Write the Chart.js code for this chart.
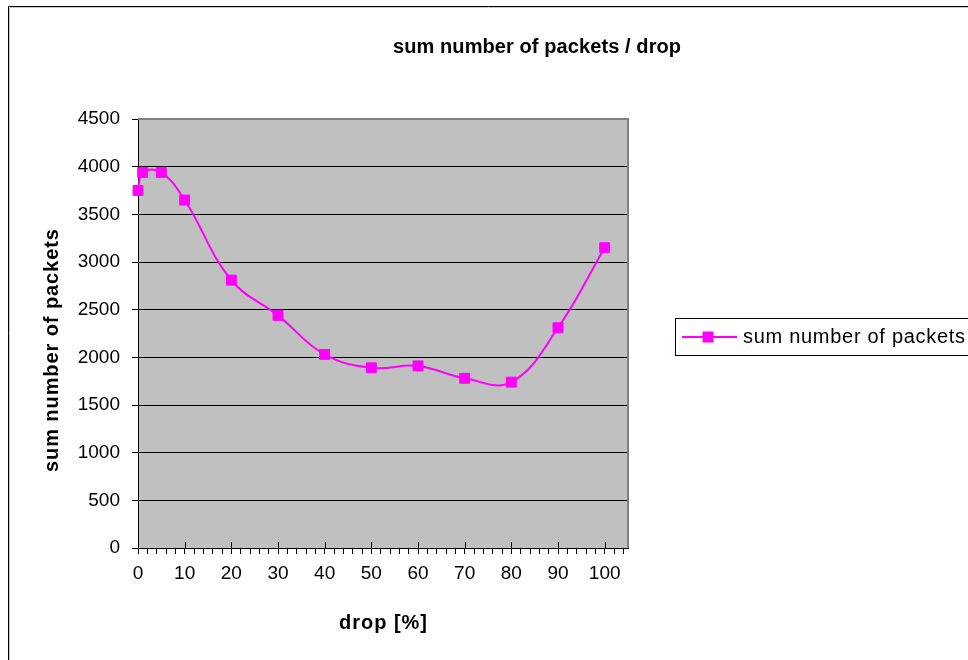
<!DOCTYPE html>
<html>
<head>
<meta charset="utf-8">
<title>sum number of packets / drop</title>
<script src="https://cdn.jsdelivr.net/npm/chart.js@4/dist/chart.umd.min.js"></script>
<style>
  html, body { margin: 0; padding: 0; background: #ffffff; }
  #wrap { width: 968px; height: 660px; }
</style>
</head>
<body>
<div id="wrap"><canvas id="chart" width="968" height="660"></canvas></div>
<script>
// Measurements: drop rate (%) and the summed packet count for each run
const dropPercent = [0, 1, 5, 10, 20, 30, 40, 50, 60, 70, 80, 90, 100];
const packetSums  = [3750, 3940, 3940, 3650, 2810, 2440, 2030, 1890, 1910, 1780, 1740, 2310, 3150];

const seriesName = 'sum number of packets';
const chartTitle = 'sum number of packets / drop';
const xAxisTitle = 'drop [%]';
const yAxisTitle = 'sum number of packets';

const FONT = '"Liberation Sans", Arial, Helvetica, sans-serif';
const MAGENTA = '#FF00FF';

// Draw text stretched to a given width (letter spacing), starting at x
function spacedText(ctx, text, x, baseY, width, font) {
  ctx.font = font;
  ctx.letterSpacing = '0px';
  const w = ctx.measureText(text).width;
  const sp = Math.max(0, (width - w) / (text.length - 1));
  ctx.letterSpacing = sp.toFixed(2) + 'px';
  ctx.textAlign = 'left';
  ctx.textBaseline = 'alphabetic';
  ctx.fillText(text, x, baseY);
  ctx.letterSpacing = '0px';
}

const frame = {
  id: 'frame',
  beforeDraw(chart) {
    const { ctx, chartArea: a } = chart;
    ctx.save();
    ctx.fillStyle = '#ffffff';
    ctx.fillRect(0, 0, chart.width, chart.height);
    // plot background
    ctx.fillStyle = '#C0C0C0';
    ctx.fillRect(a.left, a.top, a.right - a.left, a.bottom - a.top);
    ctx.restore();
  },
  beforeDatasetsDraw(chart) {
    const { ctx, chartArea: a } = chart;
    const x = chart.scales.x;
    ctx.save();
    // grey top and right edges of the plot area
    ctx.strokeStyle = '#808080';
    ctx.lineWidth = 2;
    ctx.beginPath();
    ctx.moveTo(a.left, a.top);
    ctx.lineTo(a.right, a.top);
    ctx.lineTo(a.right, a.bottom);
    ctx.stroke();
    // major x ticks cross the axis line
    ctx.strokeStyle = '#000000';
    ctx.lineWidth = 1;
    ctx.beginPath();
    for (let v = 10; v <= 100; v += 10) {
      const px = Math.round(x.getPixelForValue(v)) + 0.5;
      ctx.moveTo(px, a.bottom - 6);
      ctx.lineTo(px, a.bottom);
    }
    ctx.stroke();
    ctx.restore();
  },
  afterDraw(chart) {
    const { ctx, chartArea: a } = chart;
    ctx.save();
    // chart border
    ctx.strokeStyle = '#c8c8c8';
    ctx.lineWidth = 1;
    ctx.beginPath();
    ctx.moveTo(9.5, 660); ctx.lineTo(9.5, 7.5); ctx.lineTo(968, 7.5);
    ctx.stroke();
    ctx.strokeStyle = '#000000';
    ctx.beginPath();
    ctx.moveTo(8.5, 660); ctx.lineTo(8.5, 6.5); ctx.lineTo(968, 6.5);
    ctx.stroke();

    ctx.fillStyle = '#000000';
    // chart title
    spacedText(ctx, chartTitle, 393, 53, 288, 'bold 20px ' + FONT);
    // x axis title
    spacedText(ctx, xAxisTitle, 339, 629, 88, 'bold 20px ' + FONT);
    // y axis title (rotated)
    ctx.save();
    ctx.translate(58, 472);
    ctx.rotate(-Math.PI / 2);
    spacedText(ctx, yAxisTitle, 0, 0, 243, 'bold 20px ' + FONT);
    ctx.restore();

    // legend
    const ds = chart.data.datasets[0];
    ctx.strokeStyle = '#000000';
    ctx.lineWidth = 1;
    ctx.strokeRect(675.5, 318.5, 400, 37);
    ctx.strokeStyle = ds.borderColor;
    ctx.lineWidth = 2;
    ctx.beginPath();
    ctx.moveTo(682, 337); ctx.lineTo(737, 337);
    ctx.stroke();
    ctx.fillStyle = ds.pointBackgroundColor;
    ctx.fillRect(702.5, 331.5, 11, 11);
    ctx.fillStyle = '#000000';
    spacedText(ctx, ds.label, 743, 343, 222, '20px ' + FONT);
    ctx.restore();
  }
};

new Chart(document.getElementById('chart'), {
  type: 'line',
  data: {
    datasets: [{
      label: seriesName,
      data: dropPercent.map((d, i) => ({ x: d, y: packetSums[i] })),
      borderColor: MAGENTA,
      backgroundColor: MAGENTA,
      pointBackgroundColor: MAGENTA,
      pointBorderColor: MAGENTA,
      borderWidth: 2,
      pointStyle: 'rect',
      pointRadius: 7,
      pointBorderWidth: 1,
      tension: 0.4,
      fill: false,
      clip: false
    }]
  },
  options: {
    responsive: false,
    animation: false,
    events: [],
    layout: { padding: { left: 0, right: 340, top: 119, bottom: 0 } },
    plugins: {
      legend: { display: false },
      title: { display: false },
      tooltip: { enabled: false }
    },
    scales: {
      x: {
        type: 'linear',
        min: 0,
        max: 105,
        afterFit(s) { s.height = 112; },
        border: { display: true, color: '#000000', width: 1 },
        grid: { drawOnChartArea: false, color: '#000000', tickLength: 6, lineWidth: 1 },
        ticks: {
          stepSize: 2,
          autoSkip: false,
          includeBounds: false,
          maxRotation: 0,
          padding: 8,
          color: '#000000',
          font: { family: FONT, size: 19 },
          callback: v => (v % 10 === 0 ? String(v) : '')
        }
      },
      y: {
        min: 0,
        max: 4500,
        afterFit(s) { s.width = 138; },
        border: { display: true, color: '#000000', width: 1 },
        grid: {
          color: c => (c.tick && c.tick.value === 4500 ? 'rgba(0,0,0,0)' : '#000000'),
          tickColor: '#000000',
          tickLength: 6,
          lineWidth: 1
        },
        ticks: {
          stepSize: 500,
          padding: 12,
          color: '#000000',
          font: { family: FONT, size: 19 },
          callback: v => String(v)
        }
      }
    }
  },
  plugins: [frame]
});
</script>
</body>
</html>
